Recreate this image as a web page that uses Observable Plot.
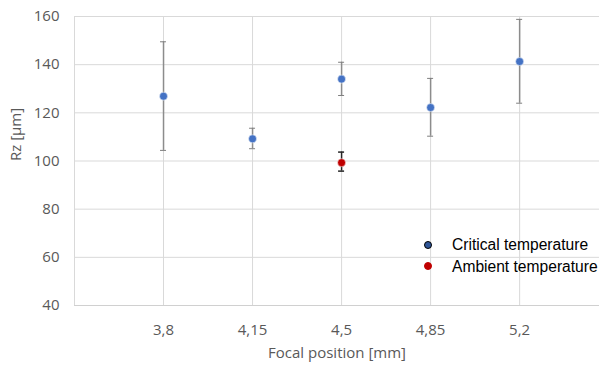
<!DOCTYPE html>
<html><head><meta charset="utf-8">
<script src="https://cdn.jsdelivr.net/npm/d3@7"></script>
<script src="https://cdn.jsdelivr.net/npm/@observablehq/plot@0.6"></script>
<style>
body{margin:0;background:#fff;}
#wrap{position:relative;width:599px;height:367px;overflow:hidden;}
#legend{position:absolute;left:424px;top:234px;font-family:"Liberation Sans",Arial,sans-serif;font-size:15.6px;color:#000;line-height:21.6px;}
#legend .row{display:flex;align-items:center;white-space:nowrap;}
#legend .sw{width:8px;height:8px;border-radius:50%;margin-right:20px;box-sizing:border-box;}
</style></head>
<body><div id="wrap"><div id="legend"></div></div>
<script>
const focal = [3.8, 4.15, 4.5, 4.85, 5.2];
const focalLabels = ["3,8", "4,15", "4,5", "4,85", "5,2"];
const criticalRz = [126.9, 109.2, 134.0, 122.2, 141.3];
const criticalLow = [104.4, 105.1, 127.2, 110.3, 124.0];
const criticalHigh = [149.5, 113.6, 141.0, 134.3, 158.8];
const ambientFocal = [4.5];
const ambientRz = [99.3];
const ambientLow = [95.8];
const ambientHigh = [103.7];
const yTicks = [40, 60, 80, 100, 120, 140, 160];
const seriesNames = ["Critical temperature", "Ambient temperature"];

const crit = focal.map((f, i) => ({x: f, y: criticalRz[i], lo: criticalLow[i], hi: criticalHigh[i]}));
const amb = ambientFocal.map((f, i) => ({x: f, y: ambientRz[i], lo: ambientLow[i], hi: ambientHigh[i]}));

const font = "'Open Sans', sans-serif";
const chart = Plot.plot({
  width: 599, height: 367,
  marginLeft: 74, marginRight: 0, marginTop: 16, marginBottom: 62,
  style: {fontFamily: font, fontSize: "15px", color: "#595959", background: "#fff"},
  x: {domain: [3.45, 5.514], ticks: focal, tickFormat: (d) => focalLabels[focal.indexOf(d)], label: null},
  y: {domain: [40, 160], ticks: yTicks, label: null},
  marks: [
    Plot.gridY(yTicks, {stroke: "#d9d9d9", strokeOpacity: 1}),
    Plot.gridX(focal, {stroke: "#d9d9d9", strokeOpacity: 1}),
    Plot.ruleY([40], {stroke: "#d0d0d0"}),
    Plot.ruleX([3.45], {stroke: "#d9d9d9"}),
    Plot.axisY(yTicks, {tickSize: 0, tickPadding: 15, fontSize: 15, fill: "#595959"}),
    Plot.axisX(focal, {tickSize: 0, tickPadding: 19, fontSize: 15, fill: "#595959", tickFormat: (d) => focalLabels[focal.indexOf(d)]}),
    Plot.ruleX(crit, {x: "x", y1: "lo", y2: "hi", stroke: "#8c8c8c", strokeWidth: 1.5}),
    Plot.ruleY(crit, {y: "lo", x1: "x", x2: "x", insetLeft: -3, insetRight: -3, stroke: "#7f7f7f", strokeWidth: 1}),
    Plot.ruleY(crit, {y: "hi", x1: "x", x2: "x", insetLeft: -3, insetRight: -3, stroke: "#7f7f7f", strokeWidth: 1}),
    Plot.ruleX(amb, {x: "x", y1: "lo", y2: "hi", stroke: "#262626", strokeWidth: 1.5}),
    Plot.ruleY(amb, {y: "lo", x1: "x", x2: "x", insetLeft: -3, insetRight: -3, stroke: "#262626", strokeWidth: 1.5}),
    Plot.ruleY(amb, {y: "hi", x1: "x", x2: "x", insetLeft: -3, insetRight: -3, stroke: "#262626", strokeWidth: 1.5}),
    Plot.dot(crit, {x: "x", y: "y", r: 4, fill: "#4472c4", stroke: "#fff", strokeWidth: 0.5}),
    Plot.dot(amb, {x: "x", y: "y", r: 4, fill: "#c00000", stroke: "#fff", strokeWidth: 0.5}),
    Plot.text(["Focal position [mm]"], {frameAnchor: "bottom", dy: 52, fontSize: 15, fill: "#595959"}),
    Plot.text(["Rz [µm]"], {frameAnchor: "left", dx: -58, rotate: -90, fontSize: 15, fill: "#595959"})
  ]
});
const wrap = document.getElementById("wrap");
wrap.insertBefore(chart, wrap.firstChild);
const legend = document.getElementById("legend");
const swatches = [{fill: "#2f5597", stroke: "#000"}, {fill: "#c00000", stroke: "#c00000"}];
seriesNames.forEach((n, i) => {
  const row = document.createElement("div");
  row.className = "row";
  const sw = document.createElement("span");
  sw.className = "sw";
  sw.style.background = swatches[i].fill;
  sw.style.border = "1px solid " + swatches[i].stroke;
  row.appendChild(sw);
  row.appendChild(document.createTextNode(n));
  legend.appendChild(row);
});
</script></body></html>
